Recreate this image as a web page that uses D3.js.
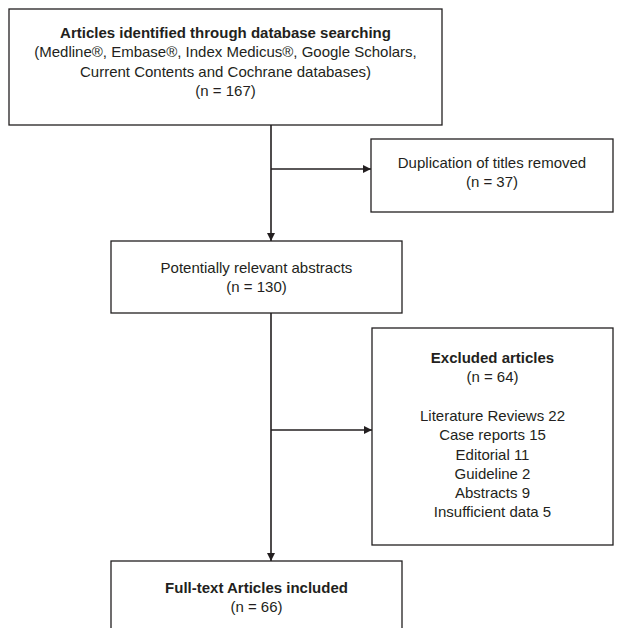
<!DOCTYPE html>
<html>
<head>
<meta charset="utf-8">
<script src="https://cdn.jsdelivr.net/npm/d3@7"></script>
<style>
  body { margin: 0; background: #fff; }
  svg text { font-family: "Liberation Sans", Arial, sans-serif; fill: #231f20; }
</style>
</head>
<body>
<svg id="chart" width="628" height="628"></svg>
<script>
// box contents (bold heading line, then plain lines; "" = blank line)
var box_ids = ['identified', 'duplicates', 'abstracts', 'excluded', 'included'];
var box_titles = [
  'Articles identified through database searching',
  '',
  '',
  'Excluded articles',
  'Full-text Articles included'
];
var box_lines = [
  ['(Medline\u00ae, Embase\u00ae, Index Medicus\u00ae, Google Scholars,', 'Current Contents and Cochrane databases)', '(n = 167)'],
  ['Duplication of titles removed', '(n = 37)'],
  ['Potentially relevant abstracts', '(n = 130)'],
  ['(n = 64)', '', 'Literature Reviews 22', 'Case reports 15', 'Editorial 11', 'Guideline 2', 'Abstracts 9', 'Insufficient data 5'],
  ['(n = 66)']
];
var box_counts = [167, 37, 130, 64, 66];

// layout of the boxes (pixels)
var layout = {
  identified: {x: 9,   y: 9,   w: 433, h: 116, first: 38},
  duplicates: {x: 371, y: 139, w: 242, h: 73,  first: 168},
  abstracts:  {x: 111, y: 241, w: 291, h: 72,  first: 273},
  excluded:   {x: 372, y: 328, w: 241, h: 217, first: 363},
  included:   {x: 111, y: 561, w: 291, h: 90,  first: 593}
};
var spine_x = 271;
var line_h = 19.3;

var svg = d3.select('#chart');

svg.append('defs').append('marker')
   .attr('id', 'arrow')
   .attr('viewBox', '0 0 10 10')
   .attr('refX', 10).attr('refY', 5)
   .attr('markerWidth', 9).attr('markerHeight', 8)
   .attr('markerUnits', 'userSpaceOnUse')
   .attr('orient', 'auto')
   .append('path').attr('d', 'M0,0 L10,5 L0,10 Z').attr('fill', '#231f20');

var boxes = box_ids.map(function(id, i){
   return {id: id, title: box_titles[i], lines: box_lines[i], n: box_counts[i], g: layout[id]};
});

// connectors
var links = [
  {x1: spine_x, y1: layout.identified.y + layout.identified.h, x2: spine_x, y2: layout.abstracts.y},
  {x1: spine_x, y1: 169, x2: layout.duplicates.x, y2: 169},
  {x1: spine_x, y1: layout.abstracts.y + layout.abstracts.h, x2: spine_x, y2: layout.included.y},
  {x1: spine_x, y1: 430, x2: layout.excluded.x, y2: 430}
];

svg.selectAll('line.link').data(links).enter().append('line')
   .attr('class', 'link')
   .attr('x1', function(d){ return d.x1; }).attr('y1', function(d){ return d.y1; })
   .attr('x2', function(d){ return d.x2; }).attr('y2', function(d){ return d.y2; })
   .attr('stroke', '#231f20').attr('stroke-width', 1.6)
   .attr('marker-end', 'url(#arrow)');

var node = svg.selectAll('g.box').data(boxes).enter().append('g').attr('class', 'box');

node.append('rect')
   .attr('x', function(d){ return d.g.x; })
   .attr('y', function(d){ return d.g.y; })
   .attr('width', function(d){ return d.g.w; })
   .attr('height', function(d){ return d.g.h; })
   .attr('fill', '#fff')
   .attr('stroke', '#231f20').attr('stroke-width', 1.3);

node.each(function(d){
   var rows = [];
   if (d.title) rows.push({t: d.title, bold: true});
   d.lines.forEach(function(l){ rows.push({t: l, bold: false}); });
   var cx = d.g.x + d.g.w / 2;
   d3.select(this).selectAll('text').data(rows).enter().append('text')
      .attr('x', cx)
      .attr('y', function(r, j){ return d.g.first + j * line_h; })
      .attr('text-anchor', 'middle')
      .attr('font-size', 15)
      .attr('font-weight', function(r){ return r.bold ? 'bold' : 'normal'; })
      .text(function(r){ return r.t; });
});
</script>
</body>
</html>
